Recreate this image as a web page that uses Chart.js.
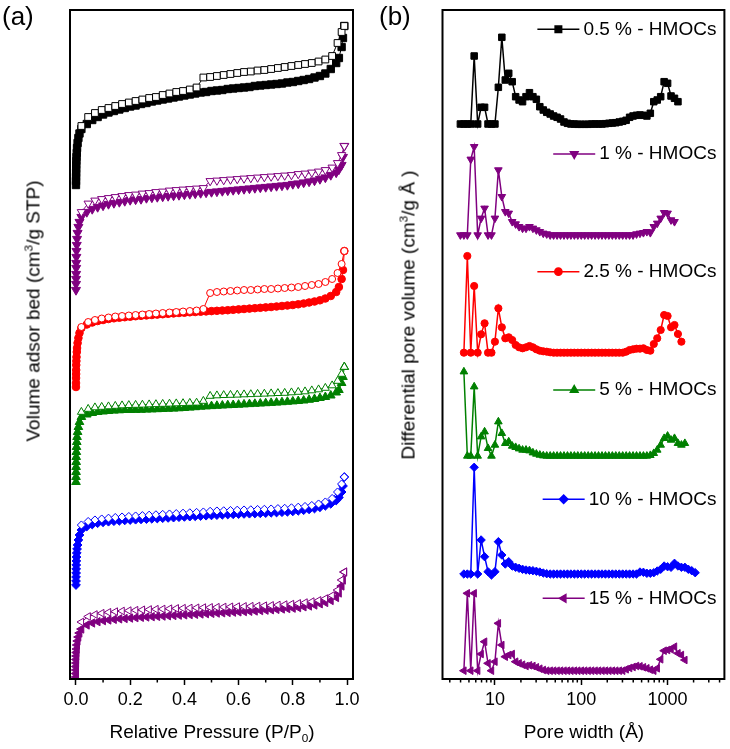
<!DOCTYPE html>
<html>
<head>
<meta charset="utf-8">
<script src="https://cdn.jsdelivr.net/npm/chart.js@4.4.0/dist/chart.umd.min.js"></script>
<style>
  body { margin: 0; background: #fff; }
  #wrap { position: relative; width: 730px; height: 749px; font-family: "Liberation Sans", Arial, sans-serif; color: #000; }
  canvas { position: absolute; top: 0; }
  .lbl { position: absolute; white-space: nowrap; line-height: 1; }
  .tl { font-size: 19px; transform: translate(-50%, -50%); }
  .rot { transform: translate(-50%, -50%) rotate(-90deg); }
  sup { font-size: 0.62em; line-height: 0; vertical-align: 0.6em; }
  sub { font-size: 0.62em; line-height: 0; vertical-align: -0.4em; }
</style>
</head>
<body>
<div id="wrap">
  <canvas id="iso" width="365" height="749" style="left:0"></canvas>
  <canvas id="psd" width="365" height="749" style="left:365px"></canvas>
  <div class="lbl" style="left:2px;top:3px;font-size:26px">(a)</div>
  <div class="lbl" style="left:379px;top:3px;font-size:26px">(b)</div>
  <div class="lbl tl rot" style="left:33px;top:311px">Volume adsor bed (cm<sup>3</sup>/g STP)</div>
  <div class="lbl tl rot" style="left:408px;top:315px">Differential pore volume (cm<sup>3</sup>/g Å )</div>
  <div class="lbl tl" style="left:212px;top:731px">Relative Pressure (P/P<sub>0</sub>)</div>
  <div class="lbl tl" style="left:584px;top:731px">Pore width (Å)</div>
</div>
<script>
// samples, in stacking order from top to bottom
const samples = ['0.5 % - HMOCs', '1 % - HMOCs', '2.5 % - HMOCs', '5 % - HMOCs', '10 % - HMOCs', '15 % - HMOCs'];

// (a) isotherms, y values are the stacked (offset) volumes, no scale shown
const presAds = [0.0001, 0.0002, 0.0004, 0.0006, 0.0008, 0.001, 0.0015, 0.002, 0.003, 0.004, 0.006, 0.009, 0.013,
  0.02, 0.04, 0.06, 0.08, 0.10, 0.12, 0.14, 0.16, 0.18, 0.20, 0.22, 0.24, 0.26, 0.28, 0.30, 0.32, 0.34, 0.36, 0.38, 0.40,
  0.42, 0.44, 0.46, 0.48, 0.50, 0.52, 0.54, 0.56, 0.58, 0.60, 0.62, 0.64, 0.66, 0.68, 0.70, 0.72, 0.74, 0.76, 0.78, 0.80,
  0.82, 0.84, 0.86, 0.88, 0.90, 0.92, 0.94, 0.96, 0.97, 0.98, 0.985, 0.99];
const presDes = [0.02, 0.045, 0.07, 0.095, 0.12, 0.145, 0.17, 0.195, 0.22, 0.245, 0.27, 0.295, 0.32, 0.345, 0.37, 0.395,
  0.42, 0.445, 0.47, 0.495, 0.52, 0.545, 0.57, 0.595, 0.62, 0.645, 0.67, 0.695, 0.72, 0.745, 0.77, 0.795, 0.82, 0.845,
  0.87, 0.895, 0.92, 0.945, 0.965, 0.98, 0.99];

const ads05 = [493, 497, 501, 505, 509, 513, 517, 521, 525, 530, 535, 540, 544.5,
  549, 554, 558, 561, 563.5, 565.5, 567, 568.5, 570, 571.5, 572.5, 574, 575, 576.5, 577.5, 578.5, 579.5, 580.5, 581.5, 582.5,
  583.5, 584.5, 585.5, 586, 587, 587.5, 588, 589, 589.5, 590, 590.5, 591, 592, 592.5, 593, 593.5, 594, 594.5, 595.5, 596,
  597, 598, 599, 600.5, 602, 604.5, 609, 615, 620, 631, 640, 652];
const ads1 = [388, 394, 399, 404, 410, 415, 421, 427, 433, 439, 445, 451, 456,
  461, 466, 469, 471, 472.5, 474, 475, 476, 477, 478, 478.5, 479, 480, 480.5, 481, 481.5, 482, 482.5, 483, 483.5,
  484, 484.5, 485, 485.5, 486, 486.5, 487, 487.5, 488, 488.5, 489, 489.5, 490, 490.5, 491, 491.5, 492, 492.5, 493, 494,
  494.5, 495.5, 496.5, 497.5, 499, 500.5, 503, 505.5, 508.5, 513, 521, 532];
const ads25 = [291, 295, 300, 304, 308, 313, 317, 321, 326, 330, 335, 340, 345,
  350, 353.5, 355.5, 357, 358, 359, 359.7, 360.3, 360.8, 361.3, 361.8, 362.2, 362.6, 363, 363.4, 363.8, 364.2, 364.6, 365, 365.3,
  365.7, 366, 366.3, 366.6, 366.9, 367.2, 367.5, 367.8, 368.2, 368.6, 369, 369.4, 369.8, 370.2, 370.6, 371, 371.5, 372, 372.5, 373,
  373.7, 374.5, 375.5, 376.5, 377.7, 379.5, 382, 386, 391, 399, 408, 427];
const ads5 = [196, 201, 206, 211, 216, 221, 226, 231, 236, 241, 246, 251, 256,
  261, 263.5, 265, 266, 266.5, 267, 267.4, 267.7, 268, 268, 268.1, 268.2, 268.4, 268.6, 268.8, 269, 269.2, 269.4, 269.7, 270,
  270.4, 270.8, 271.3, 271.6, 271.9, 272.2, 272.5, 272.8, 273, 273.3, 273.6, 273.9, 274.2, 274.5, 274.8, 275.1, 275.4, 275.8, 276.2, 276.6,
  277, 277.5, 278.2, 279, 280, 281, 282.5, 285.5, 288, 295, 301, 311];
const ads10 = [93, 97, 101, 105, 109, 113, 117, 121, 125, 129, 133, 138, 143,
  148, 151.5, 153.5, 154.8, 155.7, 156.3, 156.8, 157.2, 157.6, 158, 158.3, 158.6, 158.9, 159.2, 159.5, 159.8, 160.1, 160.4, 160.8, 161.1,
  161.4, 161.7, 162, 162.3, 162.6, 162.9, 163.2, 163.5, 163.7, 163.9, 164.1, 164.3, 164.5, 164.7, 164.9, 165.2, 165.5, 165.8, 166.2, 166.6,
  167.2, 167.8, 168.6, 169.5, 170.7, 172.2, 174.2, 177.5, 180.5, 186, 192, 201];
const ads15 = [1, 4.5, 8, 11.5, 15, 18.5, 22, 25.5, 29, 33, 37, 41, 45,
  49, 53, 55, 56.3, 57.3, 58, 58.6, 59.1, 59.5, 59.9, 60.3, 60.7, 61, 61.3, 61.6, 61.9, 62.2, 62.5, 62.8, 63.1,
  63.4, 63.7, 64, 64.3, 64.6, 64.9, 65.2, 65.5, 65.8, 66.1, 66.4, 66.7, 67, 67.4, 67.8, 68.2, 68.6, 69, 69.4, 69.8,
  70.4, 71.2, 72, 73, 74.2, 75.5, 77.5, 80.5, 85, 92, 98, 106];

const des05 = [552, 561, 565, 568, 570, 572, 574, 575.5, 577, 578.5, 580, 581, 583, 584.5, 586, 587, 588.5, 590.5, 600.5, 601,
  602, 603, 604, 605, 606, 606.5, 607.5, 608, 609, 610, 611, 612, 613, 614, 615, 616.5, 618.5, 622, 635, 646, 652];
const des1 = [466, 474.5, 477.5, 479, 480, 481, 482, 483, 483.5, 484.5, 485, 486, 486.5, 487.5, 488, 488.5, 489, 489.5, 490, 497,
  497.5, 498, 498.5, 499, 499.5, 500, 500.5, 501, 501.5, 502, 502.5, 503, 504, 504.5, 505.5, 506.5, 508, 510.5, 515, 523, 532];
const des25 = [351, 356, 358, 359.5, 360.5, 361.5, 362, 362.5, 363, 363.5, 364, 364.5, 365, 365.5, 366, 366.5, 367, 367.5, 369, 385,
  386, 386.5, 387, 387.5, 388, 388, 388.5, 389, 389, 389.5, 390, 390.5, 391, 392, 393, 394, 396, 399, 405, 414, 427];
const des5 = [266, 269, 270.5, 271, 271.5, 272, 272.5, 272.8, 273, 273.2, 273.5, 273.7, 274, 274.2, 274.5, 274.7, 275, 275.2, 277, 282,
  282.5, 282.8, 283, 283.2, 283.5, 283.7, 284, 284.2, 284.5, 284.8, 285, 285.5, 286, 286.5, 287.5, 288.5, 290, 292.5, 297, 304, 311];
const des10 = [153, 156.5, 158, 159, 159.8, 160.5, 161, 161.5, 162, 162.4, 162.8, 163.2, 163.6, 164, 164.4, 164.8, 165.2, 165.6, 166, 166.7,
  167, 167.2, 167.5, 167.8, 168, 168.2, 168.5, 168.7, 169, 169.4, 169.7, 170.2, 170.8, 171.5, 172.5, 174, 176, 179.5, 186, 194, 201];
const des15 = [56, 61.5, 63.5, 64.8, 65.7, 66.4, 67, 67.4, 67.8, 68.2, 68.5, 68.8, 69, 69.3, 69.6, 69.8, 70, 70.2, 70.4, 70.6,
  70.8, 71, 71.2, 71.4, 71.6, 71.8, 72, 72.3, 72.6, 73, 73.4, 73.9, 74.6, 75.4, 76.4, 77.6, 79.4, 82.5, 88, 98, 106];

// (b) pore size distributions (stacked, no scale shown)
const poreW = [3.98, 4.37, 4.79, 5.25, 5.75, 6.31, 6.92, 7.59, 8.32, 9.12, 10.0, 10.96, 12.02, 13.18, 14.45, 15.85, 17.38, 19.05,
  20.89, 22.91, 25.12, 27.54, 30.2, 33.11, 36.31, 39.81, 43.65, 47.86, 52.48, 57.54, 63.1, 69.18, 75.86, 83.18, 91.2, 100,
  109.6, 120.2, 131.8, 144.5, 158.5, 173.8, 190.5, 208.9, 229.1, 251.2, 275.4, 302, 331.1, 363.1, 398.1, 436.5, 478.6,
  524.8, 575.4, 631, 691.8, 758.6, 831.8, 912, 1000, 1096, 1202, 1318, 1445, 1585, 1738, 1905, 2089];

const psd05 = [554, 554, 554, 554, 622, 554, 570.7, 570.7, 554, 554, 554, 590.7, 640.7, 598, 604.7, 596.3, 581.3, 578, 576.3, 581.3,
  585.3, 581.3, 578.7, 571.3, 568, 565.7, 564, 562, 560.7, 559, 556, 554.7, 554, 554, 553.7, 553.7, 553.7, 553.7, 554, 554,
  554, 554, 554.3, 554.7, 555, 555.3, 556, 556.7, 557.7, 560.7, 562, 562.7, 563, 562.7, 562, 564.7, 576.3, 578, 581.3, 596.3,
  594.7, 582, 579.7, 576.3, null, null, null, null, null];
const psd1 = [443, 443, 443, 518.7, 531.3, 443, 459.7, 469.7, 443, 443, 459.7, 508, 481.3, 466.3, 464.7, 456.3, 454, 451.3, 449.7, 449.7,
  451.3, 449.7, 448, 446.3, 444.7, 444, 443, 443, 443, 443, 443, 443, 443, 443, 443, 443, 443, 443, 443, 443,
  443, 443, 443, 443, 443, 443, 443, 443, 443, 443, 443, 444, 444.7, 445.3, 446.3, 445.3, 451.3, 454.7, 459.7, 465.3,
  464.7, 458, 456.3, null, null, null, null, null, null];
const psd25 = [null, 325.3, 422, 325.3, 392, 325.3, 343.7, 354.7, 325.3, 325.3, 336.3, 369.7, 350.7, 339.7, 340.7, 338, 333, 330.7, 329.7, 330.7,
  332, 330.7, 328.7, 327.3, 326.7, 326.3, 325.7, 325.3, 325.3, 325.3, 325.3, 325.3, 325.3, 325.3, 325.3, 325.3, 325.3, 325.3, 325.3, 325.3,
  325.3, 325.3, 325.3, 325.3, 325.3, 325.3, 325.3, 325.3, 326.3, 328, 328.7, 329.3, 329.3, 329.7, 328, 327.3, 334, 339.7, 348, 363,
  362, 350.7, 353, 344, 336.3, null, null, null, null];
const psd5 = [null, 306.3, 222, 222, 291.3, 222, 241.3, 246.3, 229.7, 222, 233, 256.3, 244.7, 234.7, 236.3, 232, 230.7, 229.3, 228, 228,
  227.3, 225.3, 224, 223, 222.3, 222, 222, 222, 222, 222, 222, 222, 222, 222, 222, 222, 222, 222, 222, 222,
  222, 222, 222, 222, 222, 222, 222, 222, 222, 222, 222, 222, 222, 222, 222, 222.7, 224.7, 228, 233, 239.7,
  242, 238, 239.7, 234.7, 233, 234.7, null, null, null];
const psd10 = [null, 104, 104, 104, 210.7, 104, 138, 121.3, 106.3, 103, 106.3, 136.3, 123, 114, 116.3, 112, 110.7, 109.7, 108.7, 108,
  107.7, 107.3, 106.7, 106, 105, 104.3, 104, 104, 104, 104, 104, 104, 104, 104, 104, 104, 104, 104, 104, 104,
  104, 104, 104, 104, 104, 104, 104, 104, 104, 104, 104, 104, 106, 105.7, 104.7, 104.7, 105.3, 107, 108.7, 112,
  111.3, 110.7, 114.7, 112, 110.7, 110.7, 108.7, 107.3, 105.3];
const psd15 = [null, 7.3, 84.7, 7.3, 84.7, 7.3, 24, 36.3, 14.7, 7.3, 16.3, 54.7, 33, 21.3, 23, 24, 16.3, 14.7, 13.3, 12,
  12.7, 12, 10.7, 9.3, 8, 7.3, 7.3, 7.3, 7.3, 7.3, 7.3, 7.3, 7.3, 7.3, 7.3, 7.3, 7.3, 7.3, 7.3, 7.3,
  7.3, 7.3, 7.3, 7.3, 7.3, 7.3, 7.3, 7.3, 8.7, 10, 11, 12, 11.7, 10.7, 9.7, 8.3, 7.3, 9.7, 18.7, 27.3,
  28, 28.7, 31.3, 24.7, 23, 18, null, null, null];

// tick labels
const pTicks = [0, 0.2, 0.4, 0.6, 0.8, 1.0];
const pMinor = [0.1, 0.3, 0.5, 0.7, 0.9];
const wTicks = [10, 100, 1000];
const wMinor = [3, 4, 5, 6, 7, 8, 9, 20, 30, 40, 50, 60, 70, 80, 90, 200, 300, 400, 500, 600, 700, 800, 900, 2000, 3000, 4000];

// styles
const colors = ['#000000', '#800080', '#ff0000', '#008000', '#0000ff', '#800080'];
const shapes = ['rect', 'triangle', 'circle', 'triangle', 'rectRot', 'triangle'];
const rotations = [0, 180, 0, 0, 0, 270];
const radiusA = [5.2, 5.2, 3.8, 5.0, 4.4, 4.8];
const radiusB = [4.6, 4.4, 3.6, 4.4, 4.2, 4.4];
const legendY = [648.7, 524, 406.3, 288, 178.7, 79.7];
const FONT = '"Liberation Sans", Arial, sans-serif';

const adsSeries = [ads05, ads1, ads25, ads5, ads10, ads15];
const desSeries = [des05, des1, des25, des5, des10, des15];
const psdSeries = [psd05, psd1, psd25, psd5, psd10, psd15];

// frame around the plot + short minor ticks
const frame = {
  id: 'frame',
  afterDraw(chart, args, opts) {
    const { ctx, chartArea: a } = chart;
    const x = chart.scales.x;
    ctx.save();
    ctx.strokeStyle = '#000';
    ctx.lineWidth = 1.5;
    opts.minor.forEach(v => {
      const px = x.getPixelForValue(v);
      ctx.beginPath();
      ctx.moveTo(px, a.bottom);
      ctx.lineTo(px, a.bottom + 3.5);
      ctx.stroke();
    });
    ctx.lineWidth = 2;
    ctx.strokeRect(a.left, a.top, a.right - a.left, a.bottom - a.top);
    ctx.restore();
  }
};

// legend entries placed next to each curve
const psdLegend = {
  id: 'psdLegend',
  afterDatasetsDraw(chart) {
    const { ctx, chartArea: a } = chart;
    const y = chart.scales.y;
    ctx.save();
    ctx.font = '19px ' + FONT;
    ctx.textAlign = 'right';
    ctx.textBaseline = 'middle';
    samples.forEach((name, i) => {
      const py = y.getPixelForValue(legendY[i]);
      const right = a.right - 8;
      const left = right - ctx.measureText(name).width;
      ctx.fillStyle = '#000';
      ctx.fillText(name, right, py);
      const x1 = left - 46, x2 = left - 4;
      ctx.strokeStyle = colors[i];
      ctx.lineWidth = 1.5;
      ctx.beginPath();
      ctx.moveTo(x1, py);
      ctx.lineTo(x2, py);
      ctx.stroke();
      ctx.fillStyle = colors[i];
      Chart.helpers.drawPoint(ctx, { pointStyle: shapes[i], rotation: rotations[i], radius: radiusB[i], borderWidth: 1 }, (x1 + x2) / 2, py);
    });
    ctx.restore();
  }
};

function xAxis(type, min, max, ticks, fmt) {
  return {
    type: type, min: min, max: max,
    afterBuildTicks: s => { s.ticks = ticks.map(v => ({ value: v })); },
    afterFit: s => { s.height = 70; },
    grid: { drawOnChartArea: false, drawTicks: true, tickLength: 6, tickWidth: 1.5, tickColor: '#000' },
    border: { display: false },
    ticks: { color: '#000', font: { family: FONT, size: 18 }, padding: 4, maxRotation: 0, autoSkip: false, callback: fmt }
  };
}

// (a)
const isoSets = [];
samples.forEach((name, i) => {
  isoSets.push({
    label: name + ' adsorption',
    data: presAds.map((p, j) => ({ x: p, y: adsSeries[i][j] })),
    showLine: true, order: 1,
    borderColor: colors[i], borderWidth: 1,
    pointStyle: shapes[i], pointRotation: rotations[i], pointRadius: radiusA[i],
    pointBackgroundColor: colors[i], pointBorderColor: colors[i], pointBorderWidth: 1
  });
  isoSets.push({
    label: name + ' desorption',
    data: presDes.map((p, j) => ({ x: p, y: desSeries[i][j] })),
    showLine: true, order: 0,
    borderColor: colors[i], borderWidth: 1,
    pointStyle: shapes[i], pointRotation: rotations[i], pointRadius: radiusA[i] * 0.92,
    pointBackgroundColor: '#ffffff', pointBorderColor: colors[i], pointBorderWidth: 1
  });
});

new Chart(document.getElementById('iso'), {
  type: 'scatter',
  data: { datasets: isoSets },
  options: {
    responsive: false, animation: false, devicePixelRatio: 1,
    layout: { padding: { left: 70, right: 12, top: 10, bottom: 0 } },
    plugins: { legend: { display: false }, tooltip: { enabled: false }, frame: { minor: pMinor } },
    scales: {
      x: xAxis('linear', -0.022, 1.022, pTicks, v => v.toFixed(1)),
      y: { display: false, min: -1, max: 668 }
    }
  },
  plugins: [frame]
});

// (b)
const psdSets = samples.map((name, i) => ({
  label: name,
  data: poreW.map((w, j) => ({ x: w, y: psdSeries[i][j] })),
  showLine: true,
  borderColor: colors[i], borderWidth: 1.5,
  pointStyle: shapes[i], pointRotation: rotations[i], pointRadius: radiusB[i],
  pointBackgroundColor: colors[i], pointBorderColor: colors[i], pointBorderWidth: 1
}));

new Chart(document.getElementById('psd'), {
  type: 'scatter',
  data: { datasets: psdSets },
  options: {
    responsive: false, animation: false, devicePixelRatio: 1,
    layout: { padding: { left: 77.5, right: 5.5, top: 10, bottom: 0 } },
    plugins: { legend: { display: false }, tooltip: { enabled: false }, frame: { minor: wMinor } },
    scales: {
      x: xAxis('logarithmic', 2.47, 4550, wTicks, v => String(v)),
      y: { display: false, min: -1, max: 668 }
    }
  },
  plugins: [frame, psdLegend]
});
</script>
</body>
</html>
